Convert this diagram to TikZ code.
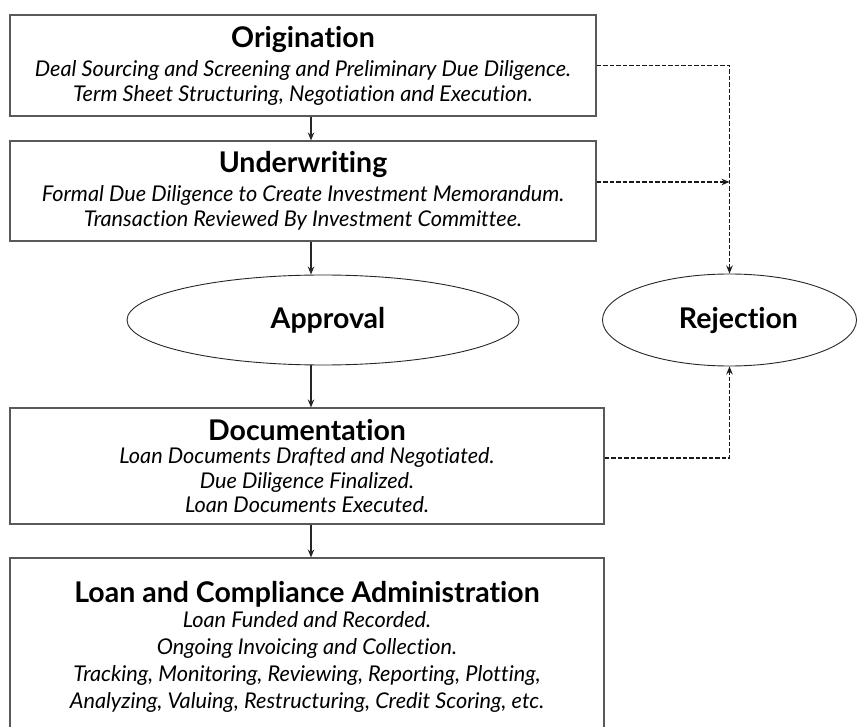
\documentclass[tikz,border=0pt]{standalone}
\usepackage{fontspec}
\setmainfont{Lato}[Ligatures=NoCommon]
\usetikzlibrary{shapes.geometric,arrows.meta,positioning}

\newcommand{\stagehead}[1]{{\fontsize{28.5}{28.5}\selectfont\bfseries\upshape #1}}

\tikzset{
  boxnode/.style={draw=black!65, line width=1.1pt, rectangle, align=center, inner sep=0pt,
    font=\fontsize{21.7}{25}\selectfont\itshape},
  ovalnode/.style={draw=black!85, line width=0.9pt, ellipse, inner sep=0pt,
    font=\fontsize{28.5}{28.5}\selectfont\bfseries},
  flowarrow/.style={draw=black!85, line width=1.4pt, -{Stealth[length=8pt,width=6.5pt]}},
  rejectline/.style={draw=black!90, line width=1.7pt, dash pattern=on 4.5pt off 2pt, -{Stealth[length=8pt,width=6.5pt]}},
}

\begin{document}
\begin{tikzpicture}[x=1pt,y=-1pt]
\useasboundingbox (0,0) rectangle (860,727);

% spine for the solid arrows
\coordinate (spine) at (311,0);

%Shape: Rectangle
\node[boxnode, minimum width=586pt, minimum height=101pt] (orig) at (303,65.5)
  {\stagehead{Origination}\\[4pt]
   Deal Sourcing and Screening and Preliminary Due Diligence.\\
   Term Sheet Structuring, Negotiation and Execution.};
%Shape: Rectangle
\node[boxnode, minimum width=586pt, minimum height=100pt] (uw) at (303,191)
  {\stagehead{Underwriting}\\[4pt]
   Formal Due Diligence to Create Investment Memorandum.\\
   Transaction Reviewed By Investment Committee.};
%Shape: Ellipse
\node[ovalnode, minimum width=392pt, minimum height=90pt] (approval) at (323,320)
  {\hspace*{10pt}Approval};
%Shape: Ellipse
\node[ovalnode, minimum width=254pt, minimum height=92pt] (reject) at (729.5,320)
  {\hspace*{18pt}Rejection};
%Shape: Rectangle
\node[boxnode, font=\fontsize{21.7}{24.5}\selectfont\itshape,
      minimum width=594pt, minimum height=116pt] (doc) at (307,466)
  {\stagehead{Documentation}\\[-1pt]
   Loan Documents Drafted and Negotiated.\\
   Due Diligence Finalized.\\
   Loan Documents Executed.};
%Shape: Rectangle (bottom edge runs off the picture)
\node[boxnode, font=\fontsize{21.7}{27}\selectfont\itshape,
      minimum width=594pt, minimum height=178pt] (loan) at (307,647)
  {\stagehead{Loan and Compliance Administration}\\[-2pt]
   Loan Funded and Recorded.\\
   Ongoing Invoicing and Collection.\\
   Tracking, Monitoring, Reviewing, Reporting, Plotting,\\
   Analyzing, Valuing, Restructuring, Credit Scoring, etc.};

% Connection
\draw[flowarrow] (orig.south -| spine) -- (uw.north -| spine);
% Connection
\draw[flowarrow] (uw.south -| spine) -- (approval.north -| spine);
% Connection
\draw[flowarrow] (approval.south -| spine) -- (doc.north -| spine);
% Connection
\draw[flowarrow] (doc.south -| spine) -- (loan.north -| spine);

% Connection
\draw[rejectline] (orig.east) -| (reject.north);
% Connection
\draw[rejectline] ([yshift=9pt]uw.east) -- ([yshift=9pt]uw.east -| reject.north);
% Connection
\draw[rejectline] ([yshift=8pt]doc.east) -| (reject.south);

\end{tikzpicture}
\end{document}
